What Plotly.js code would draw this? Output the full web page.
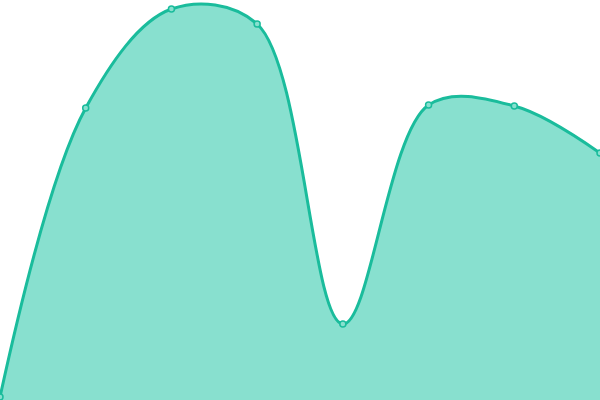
<!DOCTYPE html>
<html>
<head>
<meta charset="utf-8">
<script src="https://cdn.plot.ly/plotly-3.0.1.min.js"></script>
<style>
  html, body { margin: 0; padding: 0; background: #fff; }
  #chart { width: 600px; height: 400px; }
</style>
</head>
<body>
<div id="chart"></div>
<script>
// point positions along x and their heights
var xs = [0, 1, 2, 3, 4, 5, 6, 7];
var values = [3, 292, 391, 376, 76, 295, 294, 247];

var LINE = "#1abc9c";
var FILL = "#88e0cf";

Plotly.newPlot("chart", [{
    x: xs,
    y: values,
    type: "scatter",
    mode: "lines+markers",
    fill: "tozeroy",
    fillcolor: FILL,
    line: { color: LINE, width: 3, shape: "spline", smoothing: 1 },
    marker: { size: 6, color: FILL, line: { color: LINE, width: 1.5 } },
    cliponaxis: false,
    hoverinfo: "none"
}], {
    width: 600,
    height: 400,
    margin: { l: 0, r: 0, t: 0, b: 0 },
    paper_bgcolor: "#fff",
    plot_bgcolor: "#fff",
    showlegend: false,
    xaxis: { range: [0, 7], visible: false, fixedrange: true },
    yaxis: { range: [0, 400], visible: false, fixedrange: true }
}, {
    displayModeBar: false,
    staticPlot: true
});
</script>
</body>
</html>
